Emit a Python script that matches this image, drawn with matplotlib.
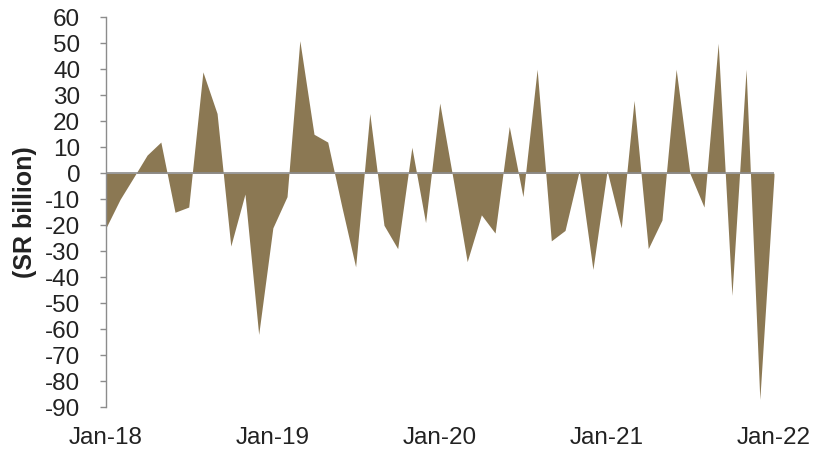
import numpy as np
import pandas as pd
import matplotlib
matplotlib.use("Agg")
import matplotlib.pyplot as plt
import matplotlib.dates as mdates

# monthly balance, Jan-2018 .. Jan-2022
months = pd.date_range("2018-01-01", "2022-01-01", freq="MS")
balance = [
    -21, -10, -2, 7, 12, -15, -13, 39, 23, -28, -8, -62,
    -21, -9, 51, 15, 12, -13, -36, 23, -20, -29, 10, -19,
    27, -4, -34, -16, -23, 18, -9, 40, -26, -22, 1, -37,
    1, -21, 28, -29, -18, 40, 0, -13, 50, -47, 40, -87,
    -1,
]
y_ticks = list(range(-90, 61, 10))
fill_color = "#8b7853"
grey = "#8c8c8c"
text_color = "#222222"

plt.rcParams["font.family"] = ["Liberation Sans", "DejaVu Sans"]
plt.rcParams["axes.unicode_minus"] = False

fig = plt.figure(figsize=(8.24, 4.55), dpi=100)
ax = fig.add_axes([0.1286, 0.105, 0.9393 - 0.1286, 0.962 - 0.105])

ax.fill_between(months, balance, 0, color=fill_color, linewidth=0)
ax.axhline(0, color=grey, linewidth=1.2)

ax.set_xlim(months[0], months[-1])
ax.set_ylim(-90, 60)
ax.set_yticks(y_ticks)
ax.tick_params(axis="y", direction="out", length=4.5, width=1, color=grey,
               pad=14, labelsize=17.5, labelcolor=text_color)

ax.xaxis.set_major_locator(mdates.MonthLocator(bymonth=1))
ax.xaxis.set_major_formatter(mdates.DateFormatter("%b-%y"))
ax.tick_params(axis="x", length=0, pad=14, labelsize=17.5, labelcolor=text_color)

for side in ["top", "right", "bottom"]:
    ax.spines[side].set_visible(False)
ax.spines["left"].set_color(grey)
ax.spines["left"].set_linewidth(1)

fig.text(0.030, 0.533, "(SR billion)", rotation=90, ha="center", va="center",
         fontsize=18, fontweight="bold", color=text_color)

fig.savefig("out.png", dpi=100)
